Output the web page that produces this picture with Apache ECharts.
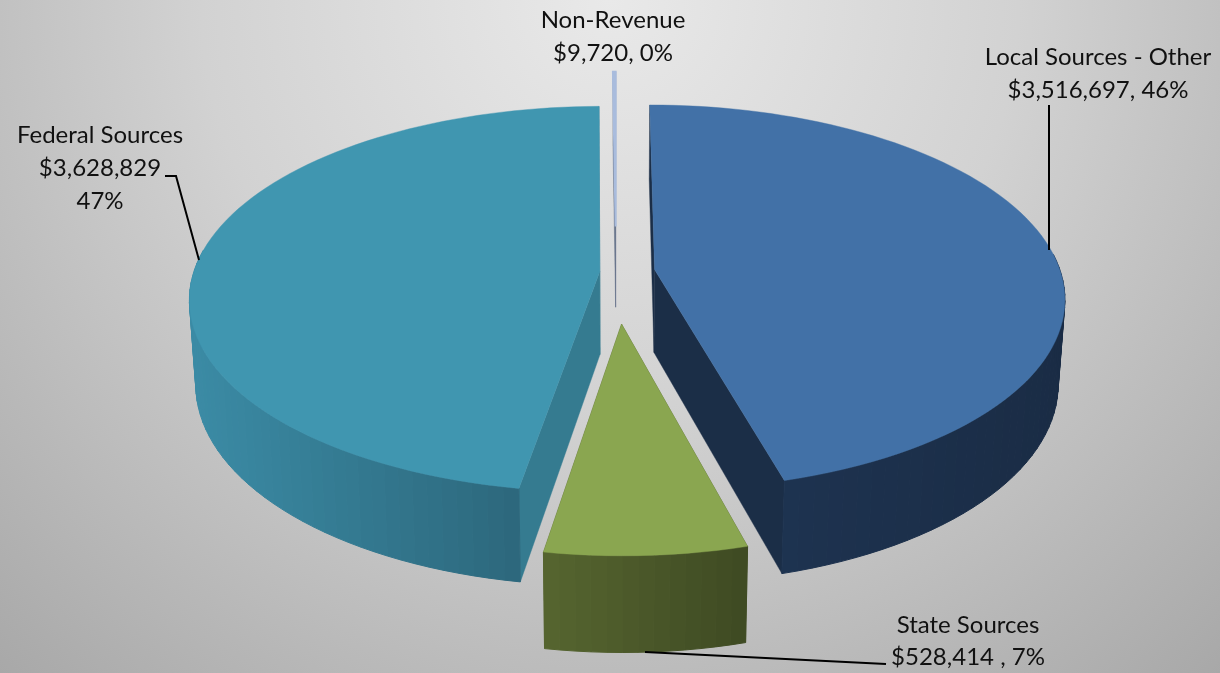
<!DOCTYPE html>
<html><head><meta charset="utf-8">
<style>html,body{margin:0;padding:0;background:#ccc}#c{width:1220px;height:673px}</style>
<script src="https://cdn.jsdelivr.net/npm/echarts@6/dist/echarts.min.js"></script>
</head><body><div id="c"></div>
<script>
// data, clockwise from 12 o'clock
var categories = ['Local Sources - Other', 'State Sources', 'Federal Sources', 'Non-Revenue'];
var values = [3516697, 528414, 3628829, 9720];
var percents = ['46%', '7%', '47%', '0%'];
var explode = [0.096, 0.265, 0.04, 0.25];
var radius = [1, 0.97, 1, 1];
var edgeWidth = [0.4, 0.4, 0.4, 2];
var topColors = ['#4271a7', '#8aa650', '#4096b0', '#a9bcdd'];
var cutColors = ['#1b2e47', '#4c5a2b', '#357b90', '#5f6d85'];
var wallLeft = ['#1f3655', '#566530', '#3b8ba5', '#5f6d85'];
var wallRight = ['#1a2c45', '#3e4a22', '#295f72', '#5f6d85'];
var labelLines = [
  ['Local Sources - Other', '$3,516,697, 46%'],
  ['State Sources', '$528,414 , 7%'],
  ['Federal Sources', '$3,628,829', '47%'],
  ['Non-Revenue', '$9,720, 0%']
];
var labelAt = [[1098, 57, 33], [968, 625, 32], [100, 135, 33], [613, 20, 33]];
var leaders = [
  [[1049, 105], [1049, 250]],
  [[645, 652], [886, 664]],
  [[165, 176], [176, 176], [199, 260]],
  []
];

// projection
var CX = 616, CY = 272, RX = 406, RY = 189, P = 0.144, DEPTH = 83, LOWER = 0.985;
function proj(a, b, low) {
  var s = 1 / (1 - P * b), k = low ? LOWER : 1;
  return [CX + RX * a * s * k, CY + RY * b * s * k + (low ? DEPTH * s : 0)];
}
var total = values.reduce(function (x, y) { return x + y; }, 0);
function hex(c) { return [1, 3, 5].map(function (i) { return parseInt(c.substr(i, 2), 16); }); }
function mix(c1, c2, t) {
  var a = hex(c1), b = hex(c2);
  return 'rgb(' + a.map(function (v, i) { return Math.round(v + (b[i] - v) * t); }).join(',') + ')';
}

function renderItem(params, api) {
  var i = params.dataIndex, value = api.value(0), before = 0;
  for (var j = 0; j < i; j++) before += values[j];
  var t0 = before / total * Math.PI * 2, t1 = (before + value) / total * Math.PI * 2;
  var mid = (t0 + t1) / 2, e = explode[i], R = radius[i];
  var a0 = e * Math.sin(mid), b0 = -e * Math.cos(mid);
  var z = Math.round((b0 + 1) * 100) * 200;
  var n = Math.max(2, Math.ceil((t1 - t0) / (Math.PI / 90)));
  var rim = [], rimLow = [], front = [];
  for (var k = 0; k <= n; k++) {
    var t = t0 + (t1 - t0) * k / n;
    var a = a0 + R * Math.sin(t), b = b0 - R * Math.cos(t);
    rim.push(proj(a, b, false));
    rimLow.push(proj(a, b, true));
    front.push(-Math.cos(t) > -0.08);
  }
  var apex = proj(a0, b0, false), apexLow = proj(a0, b0, true);
  var kids = [];
  function poly(pts, color, zz, lw) {
    kids.push({ type: 'polygon', shape: { points: pts }, z2: z + zz,
      style: { fill: color, stroke: color, lineWidth: lw } });
  }
  // cut walls
  poly([apex, rim[0], rimLow[0], apexLow], cutColors[i], 0, 0.4);
  poly([apex, rim[n], rimLow[n], apexLow], cutColors[i], 0, 0.4);
  // outer wall strips, shaded along x
  var xs = rim.map(function (p) { return p[0]; });
  var minX = Math.min.apply(null, xs), maxX = Math.max.apply(null, xs);
  for (k = 0; k < n; k++) {
    if (!front[k] && !front[k + 1]) continue;
    var f = ((rim[k][0] + rim[k + 1][0]) / 2 - minX) / Math.max(1, maxX - minX);
    poly([rim[k], rim[k + 1], rimLow[k + 1], rimLow[k]], mix(wallLeft[i], wallRight[i], f), 1, 1);
  }
  // top face
  poly([apex].concat(rim), topColors[i], 2, edgeWidth[i]);
  return { type: 'group', children: kids };
}

var graphics = [];
labelLines.forEach(function (lines, i) {
  lines.forEach(function (txt, l) {
    graphics.push({ type: 'text', x: labelAt[i][0], y: labelAt[i][1] + l * labelAt[i][2], z: 10,
      style: { text: txt, fill: '#111', font: '24px Lato, "Open Sans", sans-serif', align: 'center', verticalAlign: 'middle' } });
  });
  if (leaders[i].length) {
    graphics.push({ type: 'polyline', z: 10, shape: { points: leaders[i] },
      style: { stroke: '#000', lineWidth: 2, fill: null } });
  }
});

var chart = echarts.init(document.getElementById('c'), null, { width: 1220, height: 673, renderer: 'canvas' });
chart.setOption({
  animation: false,
  backgroundColor: { type: 'radial', x: 0.5, y: 0, r: 1.35, colorStops: [
    { offset: 0, color: '#e9e9e9' }, { offset: 0.45, color: '#d2d2d2' }, { offset: 1, color: '#a8a8a8' }
  ] },
  tooltip: { show: false },
  graphic: graphics,
  series: [{
    type: 'custom', coordinateSystem: 'none', renderItem: renderItem, silent: true,
    data: values.map(function (v, i) { return { name: categories[i], value: [v] }; })
  }]
});
</script></body></html>
